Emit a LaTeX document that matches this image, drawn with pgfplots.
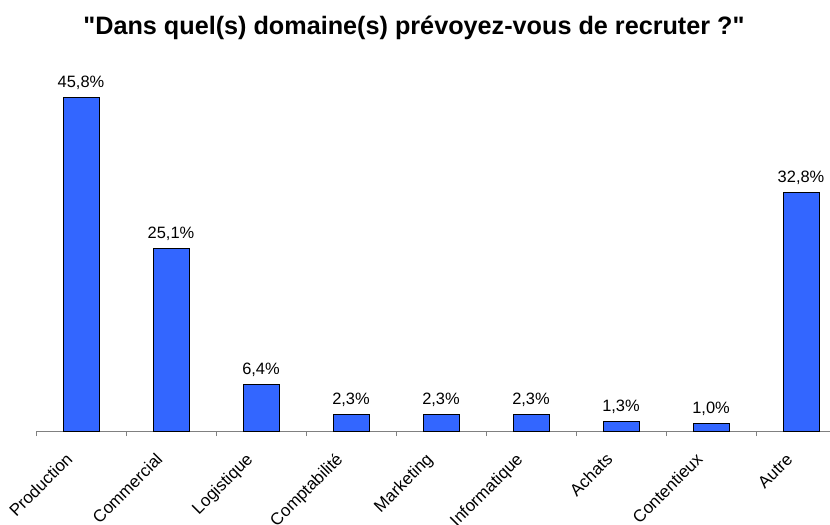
\documentclass[border=0pt]{standalone}
\usepackage{pgfplots}
\pgfplotsset{compat=1.18}
\usepackage{fontspec}
\setmainfont{Liberation Sans}
\newfontfamily\plainfont{Liberation Sans}
\definecolor{barblue}{RGB}{51,102,255}
\begin{document}
\begin{tikzpicture}
\path[use as bounding box] (0,0) rectangle (830bp,525bp);
\node[anchor=base, font=\plainfont\fontsize{25.3}{30}\selectfont\bfseries] at (414bp,490bp) {"Dans quel(s) domaine(s) prévoyez-vous de recruter ?"};
\begin{axis}[
  at={(36bp,94bp)}, anchor=south west,
  scale only axis,
  width=794bp, height=363.6bp,
  xmin=-0.5, xmax=8.322,
  ymin=0, ymax=50,
  separate axis lines,
  axis x line*=bottom,
  hide y axis,
  x axis line style={draw=gray, line width=0.9bp, -},
  clip=false,
  ybar, bar width=36bp,
  xtick={0,1,2,3,4,5,6,7,8},
  xticklabels={Production,Commercial,Logistique,Comptabilité,Marketing,Informatique,Achats,Contentieux,Autre},
  major tick length=0pt,
  tick align=outside,
  xticklabel style={xshift=-5bp, yshift=-27bp, rotate=45, anchor=base east, font=\fontsize{17}{20}\selectfont},
  extra x ticks={-0.5,0.5,1.5,2.5,3.5,4.5,5.5,6.5,7.5},
  extra x tick labels={,,,,,,,,},
  extra x tick style={major tick length=5bp, tick style={draw=gray, line width=0.9bp}},
  nodes near coords={\pgfmathprintnumber[fixed,zerofill,precision=1,use comma,assume math mode=true]{\pgfplotspointmeta}\%},
  every node near coord/.append style={anchor=base, yshift=10bp, font=\fontsize{16.5}{19}\selectfont, text=black},
]
\addplot[fill=barblue, draw=black, line width=0.9bp] coordinates {
  (0,45.8) (1,25.1) (2,6.4) (3,2.3) (4,2.3) (5,2.3) (6,1.3) (7,1.0) (8,32.8)
};
\end{axis}
\end{tikzpicture}
\end{document}
